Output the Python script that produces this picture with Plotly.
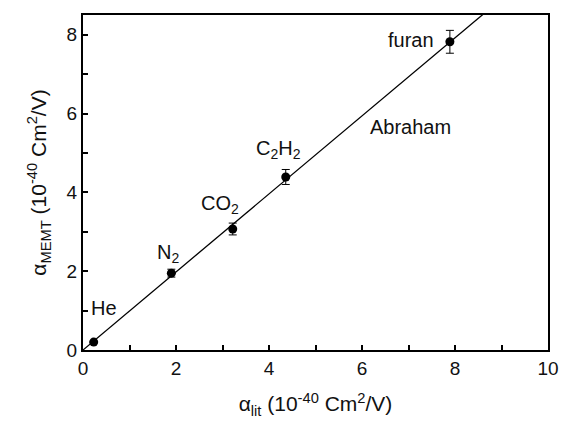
import plotly.graph_objects as go

# polarizability data (10^-40 Cm^2/V)
molecules = ['He', 'N<sub>2</sub>', 'CO<sub>2</sub>', 'C<sub>2</sub>H<sub>2</sub>', 'furan']
alpha_lit = [0.23, 1.90, 3.22, 4.36, 7.89]
alpha_memt = [0.20, 1.95, 3.07, 4.39, 7.82]
alpha_err = [0.0, 0.10, 0.15, 0.19, 0.29]

# Abraham line
fit_x = [0, 10]
fit_y = [0, 9.9]

# where the labels sit (data coords, left edge)
label_x = [0.13, 1.55, 2.5, 3.68, 6.52]
label_y = [1.07, 2.45, 3.7, 5.1, 7.87]

fig = go.Figure()

fig.add_trace(go.Scatter(x=fit_x, y=fit_y, mode='lines',
                         line=dict(color='black', width=1.3),
                         showlegend=False, hoverinfo='skip'))

fig.add_trace(go.Scatter(x=alpha_lit, y=alpha_memt, mode='markers',
                         marker=dict(color='black', size=9),
                         error_y=dict(type='data', array=alpha_err, visible=True,
                                      color='black', thickness=1, width=4),
                         showlegend=False))

for name, x, y in zip(molecules, label_x, label_y):
    fig.add_annotation(x=x, y=y, text=name, showarrow=False,
                       xanchor='left', font=dict(size=20, color='#111'))

fig.add_annotation(x=6.13, y=5.66, text='Abraham', showarrow=False,
                   xanchor='left', font=dict(size=20, color='#111'))

axis_common = dict(showline=True, linecolor='black', linewidth=2, mirror=True,
                   ticks='inside', ticklen=5, tickwidth=1.5, tickcolor='black',
                   showgrid=False, zeroline=False, automargin=False,
                   tickfont=dict(size=19, color='#111'),
                   minor=dict(ticks='inside', ticklen=5, tickwidth=1.5,
                              tickcolor='black', dtick=1, showgrid=False))

fig.update_xaxes(range=[0, 10], dtick=2,
                 title=dict(text='α<sub>lit</sub> (10<sup>-40</sup> Cm<sup>2</sup>/V)',
                            font=dict(size=21, color='#111'), standoff=19),
                 **axis_common)
fig.update_yaxes(range=[0, 8.5], dtick=2,
                 title=dict(text='α<sub>MEMT</sub> (10<sup>-40</sup> Cm<sup>2</sup>/V)',
                            font=dict(size=21, color='#111'), standoff=14),
                 **axis_common)

# page body has an 8px margin, so the figure starts at (8, 8)
fig.update_layout(width=581, height=435,
                  margin=dict(l=75, r=41, t=7, b=93),
                  plot_bgcolor='white', paper_bgcolor='white',
                  font=dict(family='Liberation Sans, Arial, sans-serif', color='#111'))

fig.write_html('out.html')
